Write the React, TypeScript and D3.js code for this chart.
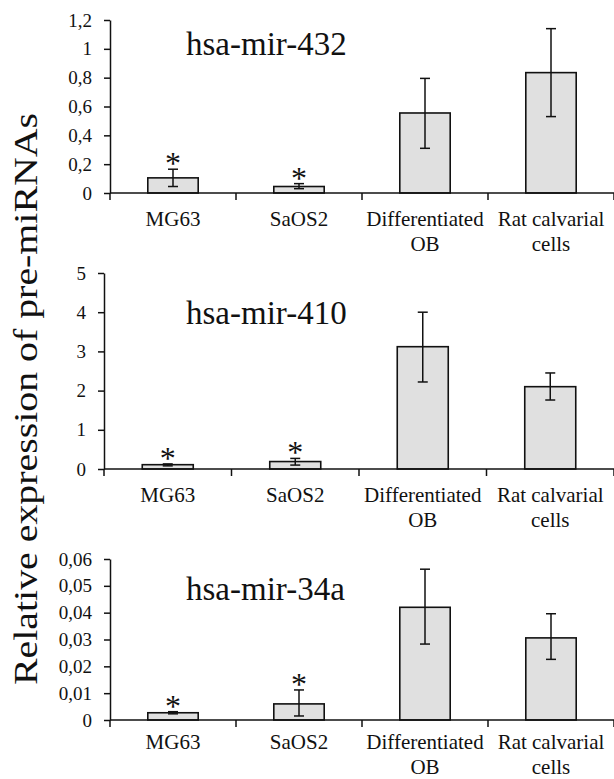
import React, { useEffect, useRef } from 'react'
import * as d3 from 'd3'

const width = 614
const height = 779

const categories = ['MG63', 'SaOS2', 'Differentiated OB', 'Rat calvarial cells']
const categoryLines = [['MG63'], ['SaOS2'], ['Differentiated', 'OB'], ['Rat calvarial', 'cells']]
const starred = [true, true, false, false]

const mir432Mean = [0.105, 0.045, 0.555, 0.835]
const mir432Low = [0.045, 0.03, 0.31, 0.53]
const mir432High = [0.165, 0.065, 0.795, 1.14]
const mir432Ticks = [0, 0.2, 0.4, 0.6, 0.8, 1, 1.2]

const mir410Mean = [0.11, 0.19, 3.12, 2.1]
const mir410Low = [0.08, 0.1, 2.22, 1.76]
const mir410High = [0.13, 0.27, 4.0, 2.45]
const mir410Ticks = [0, 1, 2, 3, 4, 5]

const mir34aMean = [0.0027, 0.006, 0.042, 0.0306]
const mir34aLow = [0.0023, 0.0015, 0.0283, 0.0226]
const mir34aHigh = [0.0031, 0.0112, 0.0562, 0.0396]
const mir34aTicks = [0, 0.01, 0.02, 0.03, 0.04, 0.05, 0.06]

const yTitle = 'Relative expression of pre-miRNAs'

// where each panel sits on the page
const panels = [
  { name: 'hsa-mir-432', mean: mir432Mean, low: mir432Low, high: mir432High, ticks: mir432Ticks, left: 110, bottom: 193, top: 20, titleY: 55, labelDy: 33 },
  { name: 'hsa-mir-410', mean: mir410Mean, low: mir410Low, high: mir410High, ticks: mir410Ticks, left: 104, bottom: 469, top: 273, titleY: 324, labelDy: 33 },
  { name: 'hsa-mir-34a', mean: mir34aMean, low: mir34aLow, high: mir34aHigh, ticks: mir34aTicks, left: 110, bottom: 720, top: 559, titleY: 600, labelDy: 29 },
]

const font = 'Liberation Serif'
const ink = '#111'

const locale = d3.formatLocale({ decimal: ',', thousands: '.', grouping: [3], currency: ['', ''] })
const fmt = locale.format('.2~f')

const App = () => {
  const svgR = useRef(null)

  useEffect(() => {
    const svg = d3.select(svgR.current)
    svg.selectAll('*').remove()

    panels.forEach(p => {
      const g = svg.append('g')
      const maxV = p.ticks[p.ticks.length - 1]

      const x = d3.scaleBand()
        .domain(categories)
        .range([p.left, width])
        .padding(0)

      const y = d3.scaleLinear()
        .domain([0, maxV])
        .range([p.bottom, p.top])

      // bars
      const barW = x.bandwidth() * 0.4
      g.selectAll('rect.bar').data(categories).enter().append('rect')
        .attr('class', 'bar')
        .attr('x', d => x(d) + x.bandwidth() / 2 - barW / 2)
        .attr('y', (d, i) => y(p.mean[i]))
        .attr('width', barW)
        .attr('height', (d, i) => y(0) - y(p.mean[i]))
        .attr('fill', '#e0e0e0')
        .attr('stroke', ink)
        .attr('stroke-width', 1.6)

      // error bars
      const cap = 5
      categories.forEach((c, i) => {
        const cx = x(c) + x.bandwidth() / 2
        const eg = g.append('g').attr('stroke', ink).attr('stroke-width', 1.5)
        eg.append('line').attr('x1', cx).attr('x2', cx).attr('y1', y(p.low[i])).attr('y2', y(p.high[i]))
        eg.append('line').attr('x1', cx - cap).attr('x2', cx + cap).attr('y1', y(p.low[i])).attr('y2', y(p.low[i]))
        eg.append('line').attr('x1', cx - cap).attr('x2', cx + cap).attr('y1', y(p.high[i])).attr('y2', y(p.high[i]))
        if (starred[i]) {
          g.append('text')
            .attr('x', cx)
            .attr('y', y(p.high[i]) + 5)
            .attr('text-anchor', 'middle')
            .attr('font-family', font)
            .attr('font-size', 32)
            .attr('fill', ink)
            .text('*')
        }
      })

      // y axis
      const ya = g.append('g')
        .attr('transform', `translate(${p.left},0)`)
        .call(d3.axisLeft(y).tickValues(p.ticks).tickFormat(fmt).tickSize(6).tickSizeOuter(0).tickPadding(12))
      ya.attr('font-family', font).attr('font-size', 19)
      ya.select('.domain').attr('stroke', ink).attr('stroke-width', 1.5)
      ya.selectAll('.tick line').attr('stroke', ink).attr('stroke-width', 1.5)
      ya.selectAll('.tick text').attr('fill', ink)

      // x axis with ticks on category boundaries
      g.append('line')
        .attr('x1', p.left).attr('x2', width)
        .attr('y1', y(0)).attr('y2', y(0))
        .attr('stroke', ink).attr('stroke-width', 1.5)
      const edges = categories.map(c => x(c)).concat([x.range()[1]])
      g.selectAll('line.xtick').data(edges).enter().append('line')
        .attr('class', 'xtick')
        .attr('x1', d => d).attr('x2', d => d)
        .attr('y1', y(0)).attr('y2', y(0) + 7)
        .attr('stroke', ink).attr('stroke-width', 1.5)

      // category labels
      categories.forEach((c, i) => {
        const t = g.append('text')
          .attr('text-anchor', 'middle')
          .attr('font-family', font)
          .attr('font-size', 21)
          .attr('fill', ink)
        categoryLines[i].forEach((line, k) => {
          t.append('tspan')
            .attr('x', x(c) + x.bandwidth() / 2)
            .attr('y', y(0) + p.labelDy + k * 25)
            .text(line)
        })
      })

      // panel title
      g.append('text')
        .attr('x', 186)
        .attr('y', p.titleY)
        .attr('font-family', font)
        .attr('font-size', 33)
        .attr('fill', ink)
        .text(p.name)
    })

    svg.append('text')
      .attr('transform', 'translate(37,399) rotate(-90)')
      .attr('text-anchor', 'middle')
      .attr('textLength', 572)
      .attr('lengthAdjust', 'spacingAndGlyphs')
      .attr('font-family', font)
      .attr('font-size', 34)
      .attr('fill', ink)
      .text(yTitle)
  }, [])

  return (
    <svg ref={svgR} width={width} height={height} fontFamily={font}
      style={{ position: 'absolute', left: 0, top: 0, background: '#fff' }} />
  )
}

export default App
